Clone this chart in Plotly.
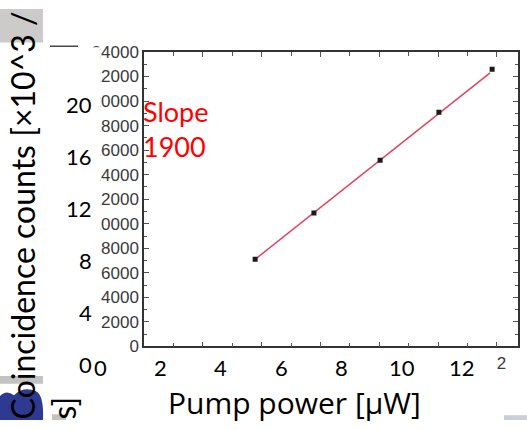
import plotly.graph_objects as go

# measured points (inner axes of the pasted plot)
pump_uw = [3.78, 5.78, 8.03, 10.03, 11.84]
counts = [7100, 10870, 15170, 19080, 22600]

# fitted line end points
fit_x = [3.78, 11.77]
fit_y = [7100, 22300]

# tick labels
inner_y_ticks = list(range(0, 24001, 2000))
inner_x_ticks = [0, 2, 4, 6, 8, 10, 12]
inner_x_text = ["", "", "", "", "", "", "12"]  # the rest is hidden under the slide
outer_y_ticks = [0, 4, 8, 12, 16, 20]
outer_x_ticks = [0, 2, 4, 6, 8, 10, 12]

slope_text = "Slope<br>1900"
y_title = "Coincidence counts [×10^3 /<br>s]"
x_title = "Pump power [µW]"

W, H = 527, 430


def px(x):
    return x / W


def py(y):
    return 1 - y / H


fig = go.Figure()

fig.add_trace(go.Scatter(x=fit_x, y=fit_y, mode="lines",
                         line=dict(color="#e2445c", width=1.5),
                         xaxis="x", yaxis="y", showlegend=False))
fig.add_trace(go.Scatter(x=pump_uw, y=counts, mode="markers",
                         marker=dict(symbol="square", size=5, color="#1a1a1a"),
                         xaxis="x", yaxis="y", showlegend=False))

inner_font = dict(family="Liberation Sans", size=17, color="#3a3a3a")
fig.update_layout(
    width=W, height=H, autosize=False,
    margin=dict(l=0, r=0, t=0, b=0),
    paper_bgcolor="white", plot_bgcolor="rgba(0,0,0,0)",
    xaxis=dict(domain=[px(144), px(518)], range=[0, 12.72], anchor="y",
               tickvals=inner_x_ticks, ticktext=inner_x_text,
               ticks="inside", ticklen=5,
               minor=dict(dtick=1, ticks="inside", ticklen=4, tickcolor="#555"),
               showline=True, linecolor="#333", linewidth=1.5, mirror="ticks",
               showgrid=False, zeroline=False, tickfont=inner_font,
               tickcolor="#555"),
    yaxis=dict(domain=[py(353), py(45)], range=[0, 24000], anchor="x",
               tickvals=inner_y_ticks, ticks="inside", ticklen=5,
               minor=dict(dtick=1000, ticks="inside", ticklen=3, tickcolor="#555"),
               showline=True, linecolor="#333", linewidth=1.5, mirror="ticks",
               showgrid=False, zeroline=False, tickfont=inner_font,
               tickcolor="#555", tickformat="d"),
    # outer (slide) scale used to place the overlaid labels
    xaxis2=dict(domain=[0, 1], range=[-3.323, 14.156], anchor="y2", visible=False),
    yaxis2=dict(domain=[0, 1], range=[-4.306, 27.347], anchor="x2", visible=False),
)

# slide pieces covering parts of the pasted picture
shapes = [
    dict(type="rect", xref="paper", yref="paper", x0=0, x1=px(100), y0=0, y1=py(40),
         fillcolor="white", line_width=0, layer="above"),
    dict(type="rect", xref="paper", yref="paper", x0=0, x1=px(497), y0=0, y1=py(364),
         fillcolor="white", line_width=0, layer="above"),
    dict(type="line", xref="paper", yref="paper", x0=px(50), x1=px(78), y0=py(39), y1=py(39),
         line=dict(color="#444", width=1.5), layer="above"),
    dict(type="rect", xref="paper", yref="paper", x0=0, x1=px(43), y0=py(35), y1=1,
         fillcolor="#cdcaca", line_width=0, layer="above"),
    dict(type="rect", xref="paper", yref="paper", x0=0, x1=px(43), y0=py(392), y1=py(384),
         fillcolor="#c2c2c2", line_width=0, layer="above"),
    dict(type="path", xref="paper", yref="paper",
         path="M 0,%f L 0,%f Q %f,%f %f,%f Q %f,%f %f,%f Q %f,%f %f,%f L %f,%f Z" % (
             py(430), py(405), px(6), py(398), px(14), py(404), px(24), py(394),
             px(36), py(400), px(44), py(404), px(43), py(430), px(43), py(430)),
         fillcolor="#2e3a92", line_width=0, layer="above"),
    dict(type="rect", xref="paper", yref="paper", x0=px(52), x1=px(66), y0=0, y1=py(424),
         fillcolor="#c2c2c2", line_width=0, layer="above"),
    dict(type="rect", xref="paper", yref="paper", x0=px(504), x1=1, y0=0, y1=py(425),
         fillcolor="#c9ced9", line_width=0, layer="above"),
]
fig.update_layout(shapes=shapes)

ann = []
tick_font = dict(family="Lato", size=22, color="black")
for v in outer_y_ticks:
    ann.append(dict(x=px(93), xref="paper", y=v, yref="y2", text=str(v),
                    xanchor="right", yanchor="middle", showarrow=False,
                    borderpad=0, font=tick_font))
for v in outer_x_ticks:
    ann.append(dict(x=v, xref="x2", y=py(375), yref="paper", text=str(v),
                    xanchor="center", yanchor="middle", showarrow=False,
                    borderpad=0, font=tick_font))
ann.append(dict(x=px(1), y=py(432), xref="paper", yref="paper", text=y_title,
                textangle=-90, align="left", xanchor="left", yanchor="bottom",
                showarrow=False, font=dict(family="Lato", size=32, color="black")))
ann.append(dict(x=px(294), y=py(434), xref="paper", yref="paper", text=x_title,
                xanchor="center", yanchor="bottom", showarrow=False, borderpad=0,
                font=dict(family="Open Sans", size=30, color="black")))
ann.append(dict(x=px(141), y=py(88), xref="paper", yref="paper", text=slope_text,
                xanchor="left", yanchor="top", align="left", showarrow=False,
                font=dict(family="Lato", size=27, color="#ff0000")))
fig.update_layout(annotations=ann)

fig.write_html("out.html", config={"displayModeBar": False},
               post_script="document.body.style.margin='0px';")
